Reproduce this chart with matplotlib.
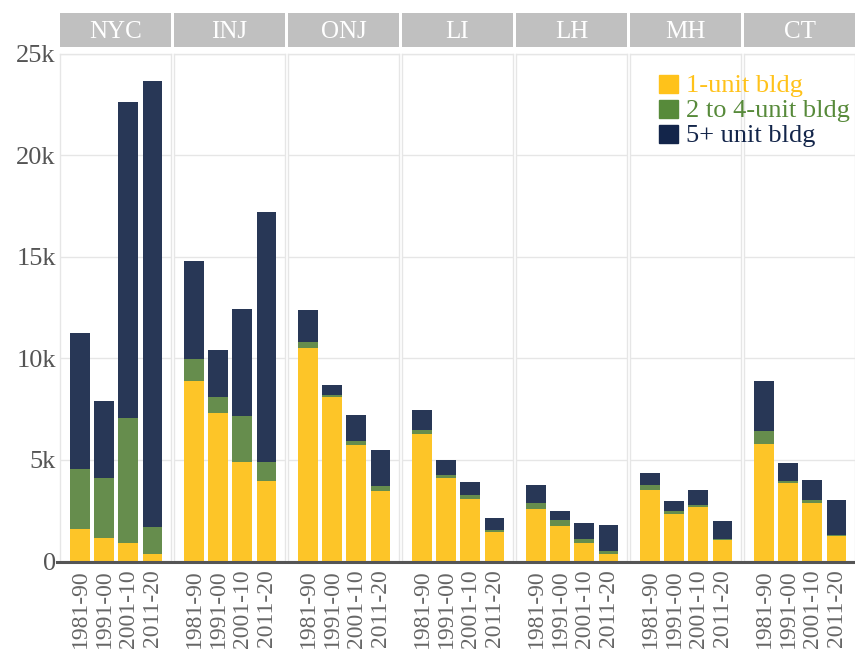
import matplotlib
matplotlib.use("Agg")
import matplotlib.pyplot as plt
from matplotlib.patches import Rectangle
from matplotlib.lines import Line2D

plt.rcParams["font.family"] = ["Liberation Serif", "DejaVu Serif"]

regions = ["NYC", "INJ", "ONJ", "LI", "LH", "MH", "CT"]
decades = ["1981-90", "1991-00", "2001-10", "2011-20"]
series = ["1-unit bldg", "2 to 4-unit bldg", "5+ unit bldg"]

# units permitted, per region and decade
one_unit = {
    "NYC": [1600, 1140, 900, 350],
    "INJ": [8900, 7280, 4900, 3960],
    "ONJ": [10500, 8070, 5740, 3470],
    "LI": [6240, 4100, 3070, 1440],
    "LH": [2570, 1730, 890, 350],
    "MH": [3510, 2330, 2670, 1040],
    "CT": [5790, 3860, 2870, 1240],
}
two_four = {
    "NYC": [2950, 2960, 6130, 1330],
    "INJ": [1050, 790, 2230, 940],
    "ONJ": [300, 100, 200, 240],
    "LI": [200, 160, 200, 90],
    "LH": [300, 300, 200, 150],
    "MH": [250, 150, 100, 50],
    "CT": [600, 100, 150, 50],
}
five_plus = {
    "NYC": [6700, 3770, 15600, 21980],
    "INJ": [4850, 2330, 5300, 12330],
    "ONJ": [1580, 500, 1240, 1740],
    "LI": [990, 740, 640, 600],
    "LH": [890, 450, 790, 1280],
    "MH": [600, 490, 740, 890],
    "CT": [2470, 890, 990, 1730],
}

bar_colors = ["#fdc528", "#668d4d", "#283756"]
leg_colors = ["#ffc21a", "#578a3a", "#13254a"]

W, H = 855, 654
fig = plt.figure(figsize=(W / 100, H / 100), dpi=100)

panel_w, gap = 111, 3
left0, top, bottom = 60, 54, 561
x = list(range(len(decades)))

for i, reg in enumerate(regions):
    lx = left0 + i * (panel_w + gap)
    ax = fig.add_axes([lx / W, 1 - bottom / H, panel_w / W, (bottom - top) / H])
    a, b, c = one_unit[reg], two_four[reg], five_plus[reg]
    ab = [p + q for p, q in zip(a, b)]
    ax.bar(x, a, width=0.82, color=bar_colors[0], zorder=3)
    ax.bar(x, b, bottom=a, width=0.82, color=bar_colors[1], zorder=3)
    ax.bar(x, c, bottom=ab, width=0.82, color=bar_colors[2], zorder=3)
    ax.set_xlim(-0.83, 3.77)
    ax.set_ylim(0, 25000)
    ax.set_yticks([0, 5000, 10000, 15000, 20000, 25000])
    ax.grid(axis="y", color="#e6e6e6", linewidth=1, zorder=0)
    ax.set_xticks(x)
    ax.set_xticklabels(decades, rotation=90, fontsize=17, color="#666666")
    ax.tick_params(axis="x", length=0, pad=6)
    if i == 0:
        ax.set_yticklabels(["0", "5k", "10k", "15k", "20k", "25k"], fontsize=19, color="#555555")
        ax.tick_params(axis="y", length=0, pad=3)
    else:
        ax.tick_params(axis="y", length=0, labelleft=False)
    for s in ["left", "right", "top"]:
        ax.spines[s].set_color("#e6e6e6")
        ax.spines[s].set_linewidth(1)
    ax.spines["bottom"].set_visible(False)

    # facet strip
    sx = fig.add_axes([lx / W, 1 - 47 / H, panel_w / W, 34 / H])
    sx.set_facecolor("#c0c0c0")
    sx.set_xticks([])
    sx.set_yticks([])
    for s in sx.spines.values():
        s.set_visible(False)
    sx.text(0.5, 0.45, reg, ha="center", va="center", fontsize=18, color="white",
            transform=sx.transAxes)

# baseline across all panels
fig.add_artist(Line2D([57 / W, 1.0], [1 - 562 / H, 1 - 562 / H], color="#555555",
                      linewidth=2.2, transform=fig.transFigure))

# legend, drawn by hand to get the tight row spacing
for k, (lab, col) in enumerate(zip(series, leg_colors)):
    y0 = 75 + 25 * k
    fig.add_artist(Rectangle((659 / W, 1 - (y0 + 18) / H), 19 / W, 18 / H,
                             color=col, transform=fig.transFigure))
    fig.text(686 / W, 1 - (y0 + 17) / H, lab, color=col, fontsize=19, va="baseline")

plt.savefig("out.png", dpi=100)
